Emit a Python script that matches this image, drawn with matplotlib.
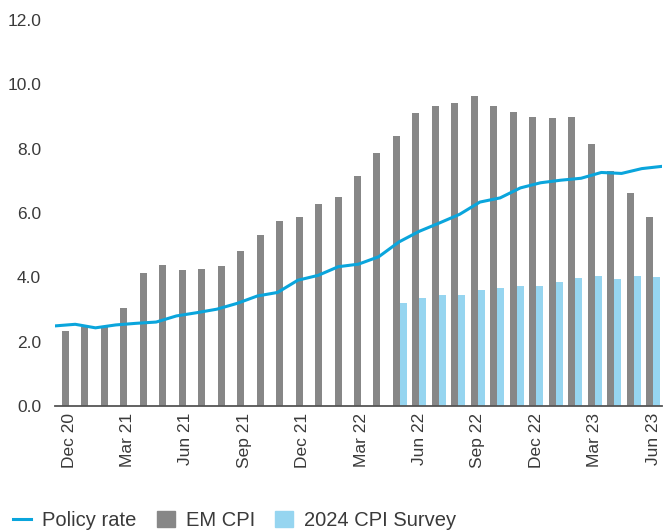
import numpy as np
import matplotlib
matplotlib.use("Agg")
import matplotlib.pyplot as plt
from matplotlib.patches import Patch
from matplotlib.lines import Line2D

plt.rcParams['font.family'] = ['Liberation Sans', 'DejaVu Sans']

# Monthly data, Dec 2020 - Jun 2023
months = ['Dec 20', 'Jan 21', 'Feb 21', 'Mar 21', 'Apr 21', 'May 21', 'Jun 21',
          'Jul 21', 'Aug 21', 'Sep 21', 'Oct 21', 'Nov 21', 'Dec 21', 'Jan 22',
          'Feb 22', 'Mar 22', 'Apr 22', 'May 22', 'Jun 22', 'Jul 22', 'Aug 22',
          'Sep 22', 'Oct 22', 'Nov 22', 'Dec 22', 'Jan 23', 'Feb 23', 'Mar 23',
          'Apr 23', 'May 23', 'Jun 23']

em_cpi = [2.34, 2.46, 2.46, 3.04, 4.13, 4.38, 4.22, 4.25, 4.35, 4.81, 5.31,
          5.75, 5.87, 6.27, 6.49, 7.14, 7.86, 8.39, 9.10, 9.32, 9.41, 9.63,
          9.32, 9.13, 8.98, 8.94, 8.98, 8.14, 7.30, 6.61, 5.87]

# survey only available from May 22
cpi_survey = [np.nan] * 17 + [3.20, 3.35, 3.45, 3.45, 3.60, 3.66, 3.73, 3.73,
                              3.85, 3.98, 4.04, 3.94, 4.04, 4.01]

policy_rate = [2.49, 2.54, 2.43, 2.52, 2.57, 2.61, 2.80, 2.90, 3.01, 3.19, 3.42,
               3.53, 3.91, 4.06, 4.33, 4.41, 4.64, 5.10, 5.43, 5.69, 5.96, 6.34,
               6.47, 6.78, 6.94, 7.02, 7.08, 7.26, 7.23, 7.38, 7.45]

GREY = '#878787'
LIGHT_BLUE = '#96d5f0'
BLUE = '#0aa5dc'
TEXT = '#3a3a3a'

fig = plt.figure(figsize=(6.67, 5.30), dpi=100)
ax = fig.add_axes([55 / 667, 1 - 406 / 530, 607 / 667, 386 / 530])

x = np.arange(len(months))
w = 0.36
ax.bar(x - w / 2, em_cpi, width=w, color=GREY, zorder=2)
ax.bar(x + w / 2, cpi_survey, width=w, color=LIGHT_BLUE, zorder=2)

xmin, xmax = -0.72, 30.46
# line series spans the full plot width (secondary category axis)
x_line = np.linspace(xmin, xmax, len(policy_rate))
ax.plot(x_line, policy_rate, color=BLUE, lw=2.2, zorder=3)

ax.set_xlim(xmin, xmax)
ax.set_ylim(0, 12)
ax.set_yticks(np.arange(0, 12.1, 2))
ax.set_yticklabels([f'{v:.1f}' for v in np.arange(0, 12.1, 2)])
ax.set_xticks(x[::3])
ax.set_xticklabels(months[::3], rotation=90)

for s in ['top', 'right', 'left']:
    ax.spines[s].set_visible(False)
ax.spines['bottom'].set_color('#555555')
ax.spines['bottom'].set_linewidth(1.3)
ax.spines['bottom'].set_zorder(4)
ax.tick_params(axis='both', length=0, labelsize=12.5, colors=TEXT, pad=5)
ax.tick_params(axis='y', pad=10)

handles = [Line2D([0], [0], color=BLUE, lw=2.2),
           Patch(color=GREY), Patch(color=LIGHT_BLUE)]
fig.legend(handles, ['Policy rate', 'EM CPI', '2024 CPI Survey'],
           loc='lower left', bbox_to_anchor=(-0.008, -0.035), ncol=3,
           frameon=False, fontsize=14.5, handlelength=0.9, handleheight=0.85,
           handletextpad=0.55, columnspacing=1.0, labelcolor=TEXT)

fig.savefig('out.png', dpi=100)
